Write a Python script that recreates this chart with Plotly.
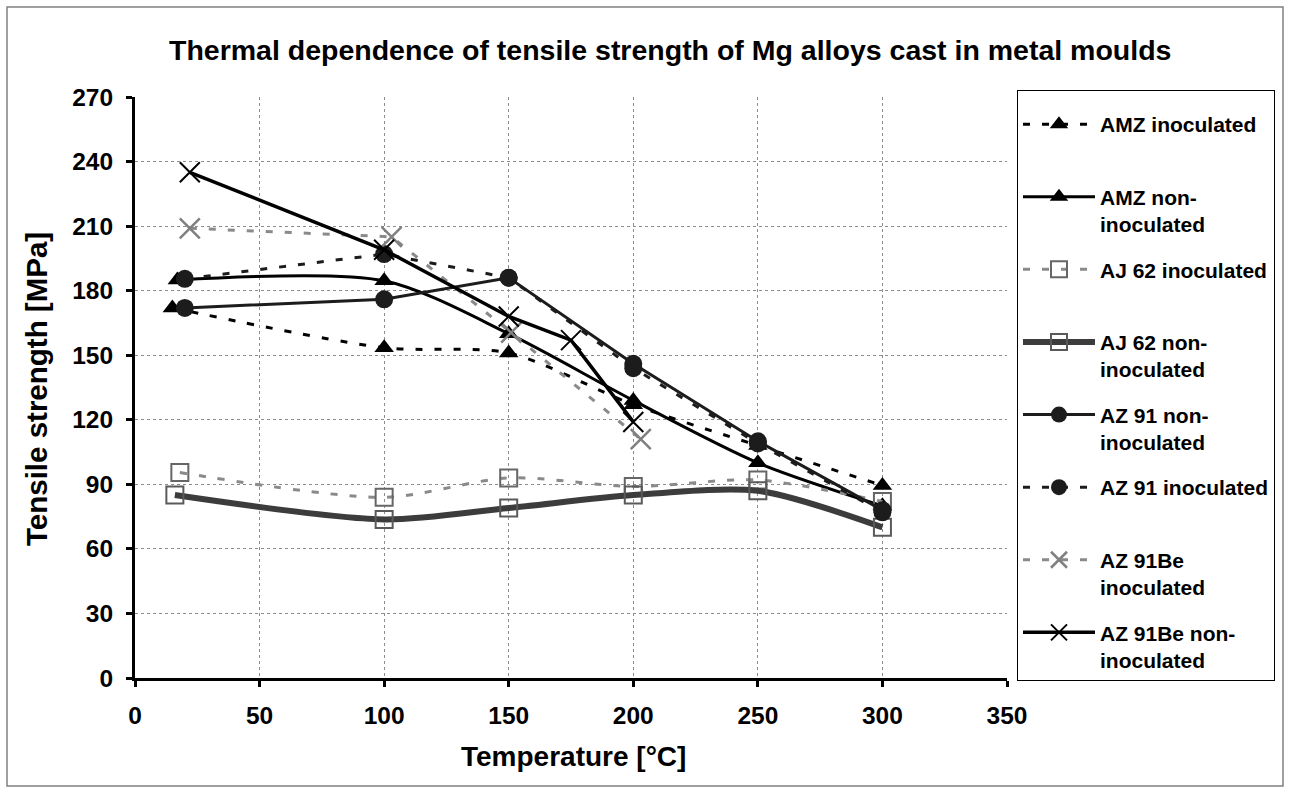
import plotly.graph_objects as go

# ---- data ----
amz_inoc_x = [15, 100, 150, 200, 250, 300]
amz_inoc_y = [172, 153.5, 151, 127, 108, 89.5]

amz_non_x = [17, 100, 150, 200, 250, 300]
amz_non_y = [185, 184.6, 160, 129, 100, 80]

aj62_inoc_x = [18, 100, 150, 200, 250, 300]
aj62_inoc_y = [95.5, 84, 93, 89, 92, 82]

aj62_non_x = [16, 100, 150, 200, 250, 300]
aj62_non_y = [85, 73.7, 79, 85, 87, 70]

az91_non_x = [20, 100, 150, 200, 250, 300]
az91_non_y = [172, 176, 186, 146, 110, 78]

az91_inoc_x = [20, 100, 150, 200, 250, 300]
az91_inoc_y = [185.5, 197, 186, 144, 109, 77]

az91be_inoc_x = [22, 103, 151, 203]
az91be_inoc_y = [209, 205, 160.5, 111]

az91be_non_x = [22, 100, 150, 175, 200]
az91be_non_y = [235, 199, 168, 157, 119]

names = [
    "AMZ inoculated<br>&nbsp;",
    "AMZ non-<br>inoculated",
    "AJ 62 inoculated<br>&nbsp;",
    "AJ 62 non-<br>inoculated",
    "AZ 91 non-<br>inoculated",
    "AZ 91 inoculated<br>&nbsp;",
    "AZ 91Be<br>inoculated",
    "AZ 91Be non-<br>inoculated",
]

FONT = "Arial, Liberation Sans, sans-serif"
DASH = "7px,12px"

fig = go.Figure()

def add(x, y, name, color, width, dash, shape, symbol, msize, mcolor, mline_color=None, mline_w=0):
    fig.add_trace(go.Scatter(
        x=x, y=y, name=name, mode="lines+markers", legendgroup=name,
        line=dict(color=color, width=width, dash=dash, shape=shape, smoothing=0.8),
        marker=dict(symbol=symbol, size=msize, color=mcolor,
                    line=dict(color=mline_color or mcolor, width=mline_w)),
    ))

add(amz_inoc_x, amz_inoc_y, names[0], "#000000", 3, DASH, "spline", "triangle-up", 17, "#000000")
add(amz_non_x, amz_non_y, names[1], "#000000", 3, "solid", "spline", "triangle-up", 17, "#000000")
add(aj62_inoc_x, aj62_inoc_y, names[2], "#8a8a8a", 3, DASH, "spline", "square-open", 17, "#666666", "#666666", 2)
add(aj62_non_x, aj62_non_y, names[3], "#3c3c3c", 6, "solid", "spline", "square-open", 17, "#5a5a5a", "#5a5a5a", 2)
add(az91_non_x, az91_non_y, names[4], "#1c1c1c", 3, "solid", "linear", "circle", 18, "#1c1c1c")
add(az91_inoc_x, az91_inoc_y, names[5], "#1c1c1c", 3, DASH, "linear", "circle", 18, "#1c1c1c")
add(az91be_inoc_x, az91be_inoc_y, names[6], "#8a8a8a", 3, DASH, "linear", "x-thin-open", 20, "#808080", "#808080", 2.5)
add(az91be_non_x, az91be_non_y, names[7], "#000000", 3.5, "solid", "linear", "x-thin-open", 20, "#000000", "#000000", 2)

L, R, T, B = 135, 1007, 97, 678
W, H = 1289, 792
pw, ph = R - L, B - T

def px(x):
    return (x - L) / pw

def py(y):
    return (B - y) / ph

axis_common = dict(
    showline=True, linecolor="#000000", linewidth=3,
    ticks="outside", ticklen=6, tickwidth=3, tickcolor="#000000",
    showgrid=True, gridcolor="#8c8c8c", gridwidth=1, griddash="dot",
    zeroline=False,
    tickfont=dict(family=FONT, size=24.5, color="#000000", weight="bold"),
)

fig.update_layout(
    width=W, height=H,
    margin=dict(l=L, r=W - R, t=T, b=H - B, pad=0),
    paper_bgcolor="#ffffff", plot_bgcolor="#ffffff",
    font=dict(family=FONT, color="#000000"),
    xaxis=dict(range=[0, 350], dtick=50, tick0=0, ticklabelstandoff=8, **axis_common),
    yaxis=dict(range=[0, 270], dtick=30, tick0=0, ticklabelstandoff=8, **axis_common),
    showlegend=True,
    legend=dict(
        x=px(1017), y=py(90), xanchor="left", yanchor="top",
        bordercolor="#000000", borderwidth=1, bgcolor="#ffffff",
        font=dict(family=FONT, size=21, color="#000000", weight="bold"),
        tracegroupgap=15, valign="top", itemwidth=72,
        traceorder="grouped", maxheight=720,
        title=dict(text="&nbsp;", font=dict(size=10)),
    ),
    annotations=[
        dict(text="<b>Thermal dependence of tensile strength of Mg alloys cast in metal moulds</b>",
             x=px(670), y=py(50), xref="paper", yref="paper", showarrow=False,
             xanchor="center", yanchor="middle", font=dict(family=FONT, size=28.5, color="#000000")),
        dict(text="<b>Tensile strength [MPa]</b>",
             x=px(36), y=py(389), xref="paper", yref="paper", showarrow=False, textangle=-90,
             xanchor="center", yanchor="middle", font=dict(family=FONT, size=29.5, color="#000000")),
        dict(text="<b>Temperature [°C]</b>",
             x=px(573), y=py(756), xref="paper", yref="paper", showarrow=False,
             xanchor="center", yanchor="middle", font=dict(family=FONT, size=28, color="#000000")),
    ],
    shapes=[
        dict(type="rect", xref="paper", yref="paper",
             x0=px(7), x1=px(1283), y0=py(786), y1=py(7),
             line=dict(color="#808080", width=1.5), fillcolor="rgba(0,0,0,0)", layer="below"),
    ],
)

fig.write_html("out.html", config={"displayModeBar": False},
               post_script="document.body.style.margin='0px';")
